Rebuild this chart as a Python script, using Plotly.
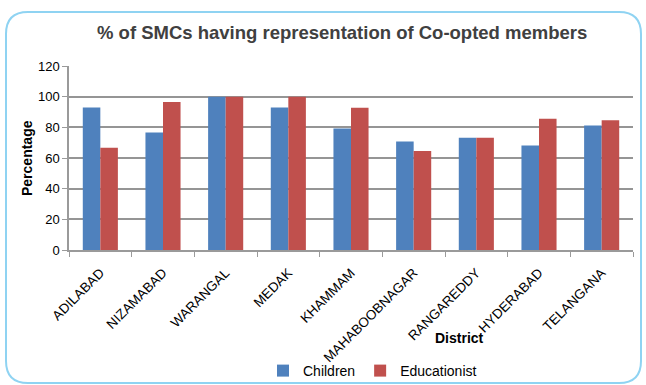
import plotly.graph_objects as go

districts = ["ADILABAD", "NIZAMABAD", "WARANGAL", "MEDAK", "KHAMMAM",
             "MAHABOOBNAGAR", "RANGAREDDY", "HYDERABAD", "TELANGANA"]
children = [93.0, 76.7, 100.0, 93.0, 79.3, 70.8, 73.2, 68.2, 81.2]
educationist = [66.7, 96.5, 100.0, 100.0, 92.7, 64.5, 73.2, 85.6, 84.7]
y_ticks = [0, 20, 40, 60, 80, 100, 120]

W, H = 646, 385
ML, MR, MT, MB = 69, 13, 66, 135
PW, PH = W - ML - MR, H - MT - MB


def px(x):
    return (x - ML) / PW


def py(y):
    return (H - MB - y) / PH


fig = go.Figure()
fig.add_trace(go.Bar(name="Children", x=districts, y=children,
                     marker=dict(color="#4F81BD", line=dict(width=0))))
fig.add_trace(go.Bar(name="Educationist", x=districts, y=educationist,
                     marker=dict(color="#C0504D", line=dict(width=0))))

# rounded frame
x0, x1, y0, y1, r = 6, 641, 12, 383, 22
path = (f"M {px(x0+r)},{py(y0)} L {px(x1-r)},{py(y0)} "
        f"Q {px(x1)},{py(y0)} {px(x1)},{py(y0+r)} "
        f"L {px(x1)},{py(y1-r)} Q {px(x1)},{py(y1)} {px(x1-r)},{py(y1)} "
        f"L {px(x0+r)},{py(y1)} Q {px(x0)},{py(y1)} {px(x0)},{py(y1-r)} "
        f"L {px(x0)},{py(y0+r)} Q {px(x0)},{py(y0)} {px(x0+r)},{py(y0)} Z")

fig.update_layout(
    width=W, height=H,
    margin=dict(l=ML, r=MR, t=MT, b=MB, pad=0, autoexpand=False),
    paper_bgcolor="white", plot_bgcolor="white",
    font=dict(family="Liberation Sans, Arial, sans-serif", color="#000000"),
    barmode="group", bargap=0.44, bargroupgap=0,
    showlegend=True,
    legend=dict(orientation="h", x=px(263), xanchor="left", y=py(371), yanchor="middle",
                font=dict(size=14), tracegroupgap=0, bgcolor="rgba(0,0,0,0)"),
    shapes=[dict(type="path", xref="paper", yref="paper", path=path,
                 line=dict(color="#8FD3F2", width=2), layer="below")],
    annotations=[
        dict(text="<b>% of SMCs having representation of Co-opted members</b>",
             xref="paper", yref="paper", x=px(342), y=py(32), showarrow=False,
             xanchor="center", yanchor="middle", font=dict(size=18.5, color="#404040")),
        dict(text="<b>Percentage</b>", xref="paper", yref="paper", x=px(27), y=py(158),
             showarrow=False, textangle=-90, xanchor="center", yanchor="middle",
             font=dict(size=14, color="#000000")),
        dict(text="<b>District</b>", xref="paper", yref="paper", x=px(459), y=py(338),
             showarrow=False, xanchor="center", yanchor="middle",
             font=dict(size=14, color="#000000")),
    ],
)

fig.update_xaxes(showline=True, linecolor="#9A9A9A", linewidth=1.5, automargin=False,
                 ticks="outside", tickson="boundaries", ticklen=5, tickcolor="#9A9A9A",
                 tickangle=-45, tickfont=dict(size=13.5), ticklabelstandoff=8,
                 showgrid=False)
fig.update_yaxes(range=[0, 120], tickvals=y_ticks, showline=True, linecolor="#9A9A9A",
                 linewidth=1.5, ticks="outside", ticklen=5, tickcolor="#9A9A9A", automargin=False,
                 tickfont=dict(size=13), showgrid=True, gridcolor="#959595", gridwidth=1.5,
                 zeroline=False)

fig.write_html("out.html")
